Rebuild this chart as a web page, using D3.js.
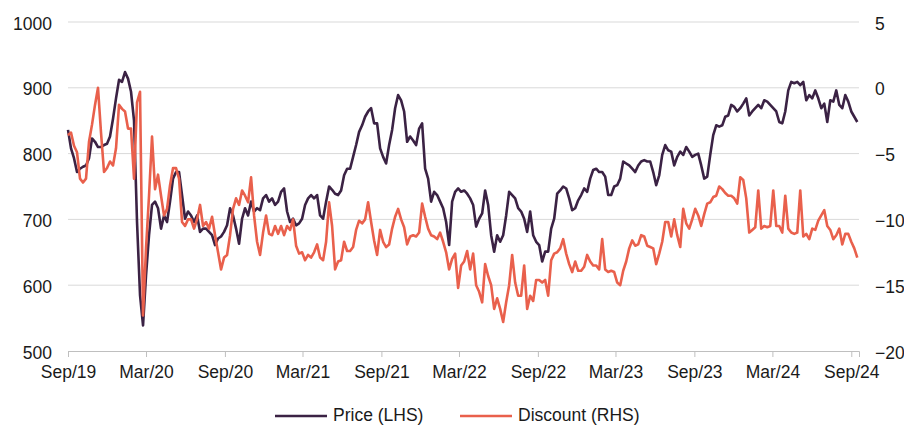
<!DOCTYPE html>
<html>
<head>
<meta charset="utf-8">
<script src="https://cdn.jsdelivr.net/npm/d3@7"></script>
<style>
  body { margin: 0; background: #fff; }
  text { font-family: Arial, "Liberation Sans", sans-serif; fill: #1a1a1a; }
</style>
</head>
<body>
<div id="chart"></div>
<script>
/* Price (LHS) and Discount (RHS), weekly readings Sep/19 - Sep/24 */

const startDate = new Date(2019, 8, 1);
const stepDays = 7;

const priceValues = [
  836,808,793,772,777,780,782,793,823,818,810,810,813,815,826,853,884,912,909,924,914,894,850,696,585,539,615,676,722,727,717,686,706,696,727,762,772,772,737,701,712,706,696,706,681,
  686,686,681,676,661,671,674,681,691,717,706,686,663,701,717,706,727,712,717,714,732,737,727,732,722,727,742,747,712,696,701,691,694,701,722,732,737,732,737,706,701,727,750,745,
  739,737,744,767,777,777,795,813,833,843,856,864,869,846,846,808,795,785,813,836,869,889,881,864,818,826,820,813,838,846,777,762,727,742,737,727,717,696,661,727,742,747,742,
  744,739,732,722,689,701,709,744,722,676,651,676,666,676,706,742,737,732,717,712,701,681,712,676,666,661,636,651,651,686,701,739,744,750,747,732,714,717,729,737,747,742,762,775,
  777,772,772,765,737,737,750,752,762,788,785,782,777,772,782,788,790,788,788,772,752,767,798,813,805,803,782,795,803,798,810,803,795,798,800,782,762,765,798,828,843,841,843,856,
  858,874,871,864,869,876,884,858,864,869,874,869,881,879,874,869,864,848,846,864,896,909,907,909,904,909,881,889,884,896,884,869,876,848,881,879,896,874,869,889,879,864,856,848
];

const discountValues = [
  -3.6,-3.4,-4.4,-4.9,-6.9,-7.2,-6.9,-4.1,-2.8,-1.3,0.0,-3.4,-6.4,-6.1,-5.6,-5.9,-4.6,-1.3,-1.6,-1.8,-3.1,-3.1,-6.9,-1.1,-0.3,-17.3,-12.2,-8.2,-3.7,-7.7,-6.6,-8.2,-9.7,-9.2,-7.4,-6.1,-6.1,-6.9,-10.2,-10.5,-10.0,-10.0,-10.7,-10.0,-8.9,
  -10.5,-10.2,-10.7,-9.8,-11.2,-12.5,-13.8,-12.9,-12.7,-11.2,-9.2,-8.4,-8.9,-7.8,-8.2,-8.7,-6.8,-9.7,-11.7,-12.7,-11.0,-9.7,-11.1,-11.2,-10.5,-11.1,-10.5,-11.2,-10.5,-10.8,-10.0,-12.0,-12.6,-12.5,-13.1,-12.7,-12.9,-12.5,-11.9,-12.9,-13.1,-11.7,-8.7,-10.5,
  -13.8,-13.2,-13.1,-11.7,-12.4,-12.4,-12.1,-10.8,-10.1,-10.3,-10.0,-8.7,-10.2,-11.6,-12.7,-10.8,-11.7,-12.1,-11.9,-10.7,-9.8,-9.2,-10.0,-10.6,-11.9,-11.3,-11.2,-11.3,-11.0,-8.8,-9.8,-10.7,-11.2,-11.3,-11.5,-11.0,-11.7,-12.5,-13.8,-13.0,-12.6,-15.2,-13.5,
  -13.2,-12.4,-13.8,-12.6,-15.0,-15.5,-16.3,-13.4,-14.3,-15.0,-16.8,-16.0,-16.8,-17.8,-16.3,-15.0,-12.7,-14.8,-15.8,-15.8,-13.5,-16.8,-15.8,-16.2,-14.6,-14.6,-14.8,-14.6,-15.8,-13.1,-12.6,-12.5,-12.2,-11.5,-12.6,-13.4,-14.0,-13.2,-13.9,-13.9,-13.6,-12.7,-13.2,-13.5,
  -13.5,-13.8,-11.5,-13.8,-14.0,-13.9,-14.0,-14.8,-15.0,-13.9,-13.2,-12.2,-11.6,-12.0,-11.9,-11.2,-11.3,-12.0,-12.1,-12.2,-13.4,-12.6,-11.7,-10.2,-10.2,-11.3,-10.0,-11.2,-12.1,-9.2,-10.3,-10.7,-10.0,-9.2,-9.7,-10.5,-9.6,-8.8,-8.7,-8.3,-8.2,-7.5,-7.7,-8.0,
  -8.2,-8.2,-8.4,-8.8,-6.8,-7.0,-8.4,-11.0,-10.8,-10.6,-7.8,-10.7,-10.5,-10.6,-10.5,-7.8,-10.5,-10.5,-11.0,-8.2,-10.7,-11.0,-11.1,-11.0,-7.8,-11.3,-11.1,-11.5,-10.7,-10.8,-10.1,-9.7,-9.3,-10.5,-10.8,-11.5,-11.2,-10.7,-11.9,-11.1,-11.1,-11.7,-12.2,-12.9
];

const leftTicks = [500, 600, 700, 800, 900, 1000];
const rightTicks = [-20, -15, -10, -5, 0, 5];
const xTickDates = ["2019-09","2020-03","2020-09","2021-03","2021-09","2022-03","2022-09","2023-03","2023-09","2024-03","2024-09"];
const seriesNames = ["Price (LHS)", "Discount (RHS)"];
const seriesColors = ["#3b2244", "#e9604c"];

const width = 904,
    height = 426,
    margin = ({ top: 22, right: 45, bottom: 75, left: 68 });

const data = priceValues.map((p, i) => ({
    date: d3.timeDay.offset(startDate, i * stepDays),
    price: p,
    discount: discountValues[i]
}));

let svg = d3.select("#chart")
    .append("svg")
    .attr("width", width)
    .attr("height", height);

const x = d3.scaleTime()
    .domain([startDate, new Date(2024, 8, 19)])
    .range([margin.left, width - margin.right]);

const yL = d3.scaleLinear()
    .domain([500, 1000])
    .range([height - margin.bottom, margin.top]);

const yR = d3.scaleLinear()
    .domain([-20, 5])
    .range([height - margin.bottom, margin.top]);

// gridlines
svg.append("g")
    .selectAll("line")
    .data(leftTicks.slice(1))
    .join("line")
    .attr("x1", margin.left)
    .attr("x2", width - margin.right)
    .attr("y1", d => yL(d))
    .attr("y2", d => yL(d))
    .attr("stroke", "#d9d9d9")
    .attr("stroke-width", 1);

const xAxis = g => g
    .attr("transform", `translate(0,${height - margin.bottom})`)
    .call(d3.axisBottom(x)
        .tickValues(xTickDates.map(d => d3.timeParse("%Y-%m")(d)))
        .tickFormat(d3.timeFormat("%b/%y"))
        .tickSizeOuter(0)
        .tickSize(6)
        .tickPadding(9))
    .call(g => g.select(".domain").attr("stroke", "#bfbfbf"))
    .call(g => g.selectAll(".tick line").attr("stroke", "#bfbfbf"))
    .call(g => g.selectAll("text").attr("font-size", 17.5).style("fill", "#1a1a1a"));

const yAxisL = g => g
    .attr("transform", `translate(${margin.left - 16},0)`)
    .call(d3.axisLeft(yL).tickValues(leftTicks).tickFormat(d3.format("d")).tickSize(0).tickPadding(0))
    .call(g => g.select(".domain").remove())
    .call(g => g.selectAll("text").attr("font-size", 17.5).attr("dy", "0.4em").style("fill", "#1a1a1a"));

const yAxisR = g => g
    .attr("transform", `translate(${width - margin.right + 16},0)`)
    .call(d3.axisRight(yR).tickValues(rightTicks).tickFormat(d3.format("d")).tickSize(0).tickPadding(0))
    .call(g => g.select(".domain").remove())
    .call(g => g.selectAll("text").attr("font-size", 17.5).attr("dy", "0.4em").style("fill", "#1a1a1a"));

svg.append("g").call(xAxis);
svg.append("g").call(yAxisL);
svg.append("g").call(yAxisR);

const priceLine = d3.line()
    .x(d => x(d.date))
    .y(d => yL(d.price));

const discountLine = d3.line()
    .x(d => x(d.date))
    .y(d => yR(d.discount));

svg.append("path")
    .datum(data)
    .attr("fill", "none")
    .attr("stroke", seriesColors[0])
    .attr("stroke-width", 2.6)
    .attr("stroke-linejoin", "round")
    .attr("d", priceLine);

svg.append("path")
    .datum(data)
    .attr("fill", "none")
    .attr("stroke", seriesColors[1])
    .attr("stroke-width", 2.6)
    .attr("stroke-linejoin", "round")
    .attr("d", discountLine);

// legend
const legendX = [275, 460];
let legend = svg.selectAll(".legend")
    .data(seriesNames)
    .join("g")
    .attr("class", "legend")
    .attr("transform", (d, i) => `translate(${legendX[i]},416)`);

legend.append("line")
    .attr("x1", 0)
    .attr("x2", 52)
    .attr("stroke", (d, i) => seriesColors[i])
    .attr("stroke-width", 2.6);

legend.append("text")
    .attr("x", 58)
    .attr("y", 5)
    .attr("font-size", 17.5)
    .text(d => d);
</script>
</body>
</html>
